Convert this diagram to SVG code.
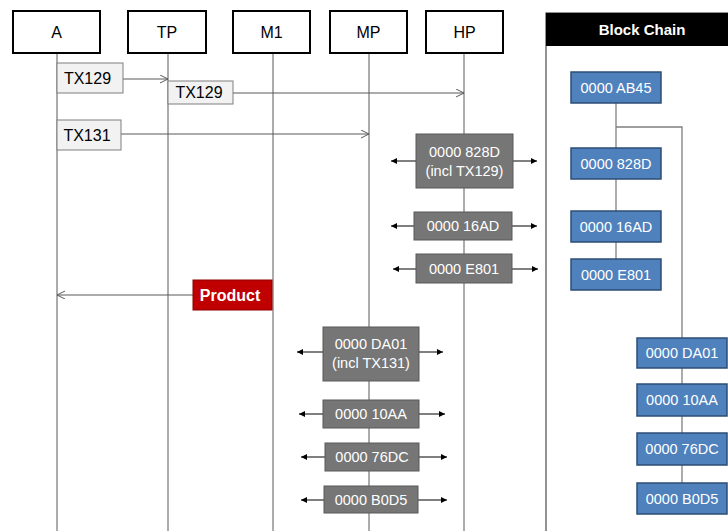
<svg xmlns="http://www.w3.org/2000/svg" width="728" height="531" viewBox="0 0 728 531">
<defs>
<style>
text{font-family:"Liberation Sans",Arial,sans-serif;text-anchor:middle;dominant-baseline:central}
.hdr rect{fill:#fff;stroke:#000;stroke-width:2}
.hdr text{font-size:16px;fill:#000}
.life{stroke:#595959;stroke-width:1;fill:none}
.msg{stroke:#595959;stroke-width:1;fill:none}
.tx rect{fill:#f2f2f2;stroke:#7f7f7f;stroke-width:1}
.tx text{font-size:16px;fill:#000}
.gb rect{fill:#767676;stroke:#595959;stroke-width:1}
.gb text{font-size:14.5px;fill:#fff}
.bb rect{fill:#4f81bd;stroke:#2c4d75;stroke-width:1.5}
.bb text{font-size:14.5px;fill:#fff}
.side{stroke:#000;stroke-width:1;fill:none}
.chain{stroke:#7f7f7f;stroke-width:1.3;fill:none}
</style>
<marker id="open" markerWidth="10" markerHeight="10" refX="8" refY="4" orient="auto" markerUnits="userSpaceOnUse">
<path d="M0,0 L8,4 L0,8" fill="none" stroke="#595959" stroke-width="1"/>
</marker>
<marker id="fill" markerWidth="8" markerHeight="8" refX="6" refY="3" orient="auto" markerUnits="userSpaceOnUse">
<path d="M0,0 L6,3 L0,6 Z" fill="#000"/>
</marker>
</defs>
<rect width="728" height="531" fill="#fff"/>

<g id="blockchain-frame">
<rect x="546" y="13" width="200" height="530" fill="#fff" stroke="#595959" stroke-width="1.3"/>
<rect x="546" y="13" width="200" height="33" fill="#000"/>
<text x="642" y="29.5" style="font-size:15px;font-weight:bold;fill:#fff">Block Chain</text>
</g>

<g id="lifelines">
<line class="life" x1="57" y1="53" x2="57" y2="531"/>
<line class="life" x1="168" y1="53" x2="168" y2="531"/>
<line class="life" x1="273" y1="53" x2="273" y2="531"/>
<line class="life" x1="369" y1="53" x2="369" y2="531"/>
<line class="life" x1="464" y1="53" x2="464" y2="531"/>
</g>

<g id="connectors">
<line class="msg" x1="123" y1="79" x2="168" y2="79" marker-end="url(#open)"/>
<line class="msg" x1="233" y1="93" x2="464" y2="93" marker-end="url(#open)"/>
<line class="msg" x1="121" y1="134" x2="369" y2="134" marker-end="url(#open)"/>
<line class="msg" x1="193" y1="295" x2="57" y2="295" marker-end="url(#open)"/>
<line class="side" x1="416" y1="161" x2="391" y2="161" marker-end="url(#fill)"/>
<line class="side" x1="513" y1="161" x2="537" y2="161" marker-end="url(#fill)"/>
<line class="side" x1="414" y1="226" x2="391" y2="226" marker-end="url(#fill)"/>
<line class="side" x1="512" y1="226" x2="537" y2="226" marker-end="url(#fill)"/>
<line class="side" x1="416" y1="269" x2="393" y2="269" marker-end="url(#fill)"/>
<line class="side" x1="512" y1="269" x2="538" y2="269" marker-end="url(#fill)"/>
<line class="side" x1="323" y1="352" x2="297" y2="352" marker-end="url(#fill)"/>
<line class="side" x1="419" y1="352" x2="443" y2="352" marker-end="url(#fill)"/>
<line class="side" x1="323" y1="414" x2="299" y2="414" marker-end="url(#fill)"/>
<line class="side" x1="419" y1="414" x2="445" y2="414" marker-end="url(#fill)"/>
<line class="side" x1="325" y1="457" x2="301" y2="457" marker-end="url(#fill)"/>
<line class="side" x1="419" y1="457" x2="447" y2="457" marker-end="url(#fill)"/>
<line class="side" x1="324" y1="500" x2="301" y2="500" marker-end="url(#fill)"/>
<line class="side" x1="418" y1="500" x2="447" y2="500" marker-end="url(#fill)"/>
<path class="chain" d="M616,103 V259"/>
<path class="chain" d="M616,127 H682 V338"/>
<path class="chain" d="M682,368 V483"/>
</g>

<g id="hdr-A" class="hdr"><rect x="13" y="11" width="87" height="42"/><text x="56.5" y="32">A</text></g>
<g id="hdr-TP" class="hdr"><rect x="128" y="11" width="78" height="42"/><text x="167" y="32">TP</text></g>
<g id="hdr-M1" class="hdr"><rect x="233" y="11" width="77" height="42"/><text x="271.5" y="32">M1</text></g>
<g id="hdr-MP" class="hdr"><rect x="330" y="11" width="77" height="42"/><text x="368.5" y="32">MP</text></g>
<g id="hdr-HP" class="hdr"><rect x="426" y="11" width="77" height="42"/><text x="464.5" y="32">HP</text></g>

<g id="tx129a" class="tx"><rect x="57" y="63" width="66" height="30"/><text x="87.5" y="78">TX129</text></g>
<g id="tx129b" class="tx"><rect x="168" y="81" width="65" height="23"/><text x="199" y="92.5">TX129</text></g>
<g id="tx131" class="tx"><rect x="57" y="120" width="64" height="30"/><text x="87" y="135">TX131</text></g>

<g id="product"><rect x="193" y="280" width="79" height="30" fill="#c00000" stroke="#8b0000" stroke-width="1"/><text x="230" y="295" style="font-size:16px;font-weight:bold;fill:#fff">Product</text></g>

<g id="g-828D" class="gb"><rect x="416" y="134" width="97" height="54"/><text x="464.5" y="152">0000 828D</text><text x="464.5" y="171">(incl TX129)</text></g>
<g id="g-16AD" class="gb"><rect x="414" y="212" width="98" height="28"/><text x="463" y="226">0000 16AD</text></g>
<g id="g-E801" class="gb"><rect x="416" y="254" width="96" height="29"/><text x="464" y="268.5">0000 E801</text></g>
<g id="g-DA01" class="gb"><rect x="323" y="327" width="96" height="54"/><text x="371" y="344">0000 DA01</text><text x="371" y="363">(incl TX131)</text></g>
<g id="g-10AA" class="gb"><rect x="323" y="400" width="96" height="28"/><text x="371" y="414">0000 10AA</text></g>
<g id="g-76DC" class="gb"><rect x="325" y="443" width="94" height="28"/><text x="372" y="457">0000 76DC</text></g>
<g id="g-B0D5" class="gb"><rect x="324" y="486" width="94" height="27"/><text x="371" y="499.5">0000 B0D5</text></g>

<g id="b-AB45" class="bb"><rect x="571" y="72" width="90" height="31"/><text x="616" y="87.5">0000 AB45</text></g>
<g id="b-828D" class="bb"><rect x="571" y="148" width="90" height="31"/><text x="616" y="163.5">0000 828D</text></g>
<g id="b-16AD" class="bb"><rect x="571" y="211" width="90" height="31"/><text x="616" y="226.5">0000 16AD</text></g>
<g id="b-E801" class="bb"><rect x="571" y="259" width="90" height="31"/><text x="616" y="274.5">0000 E801</text></g>
<g id="b-DA01" class="bb"><rect x="637" y="338" width="90" height="30"/><text x="682" y="353">0000 DA01</text></g>
<g id="b-10AA" class="bb"><rect x="637" y="384" width="90" height="32"/><text x="682" y="400">0000 10AA</text></g>
<g id="b-76DC" class="bb"><rect x="637" y="433" width="90" height="32"/><text x="682" y="449">0000 76DC</text></g>
<g id="b-B0D5" class="bb"><rect x="637" y="483" width="90" height="31"/><text x="682" y="498.5">0000 B0D5</text></g>
</svg>
